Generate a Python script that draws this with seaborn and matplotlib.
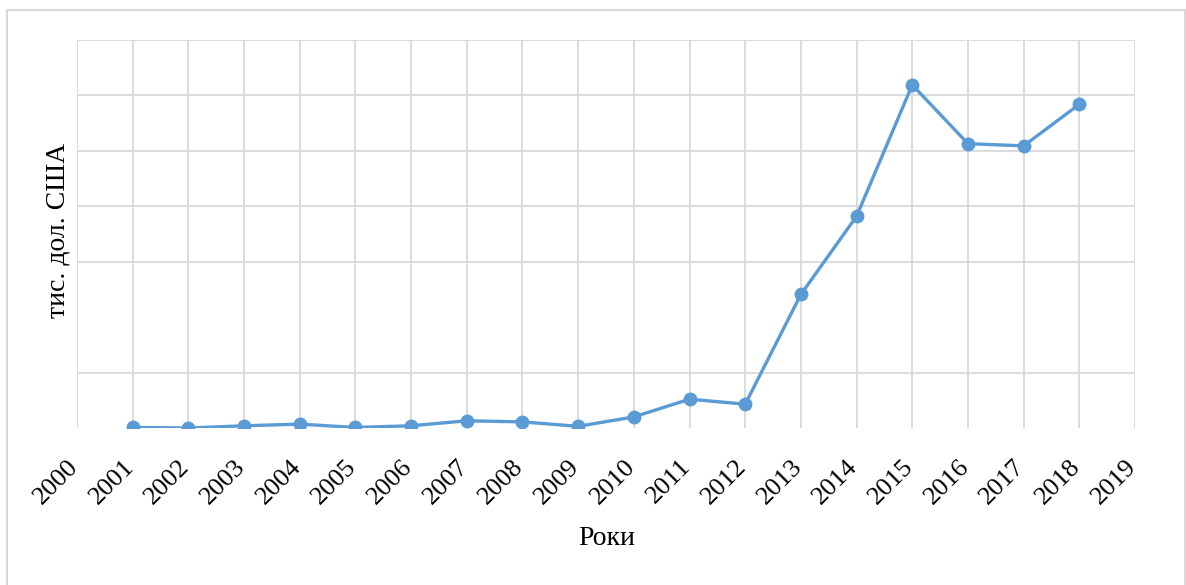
import matplotlib
matplotlib.use("Agg")
import matplotlib.pyplot as plt
import matplotlib.transforms as mtransforms
import seaborn as sns
import pandas as pd
from matplotlib.patches import Rectangle

# Values (units of one gridline step; the axis has no numbers)
years = list(range(2001, 2019))
values = [0.01, 0.0, 0.04, 0.07, 0.01, 0.04, 0.13, 0.11, 0.03,
          0.2, 0.52, 0.43, 2.41, 3.82, 6.19, 5.13, 5.09, 5.84]
tick_years = list(range(2000, 2020))
grid_levels = [1, 3, 4, 5, 6, 7]
x_title = "Роки"
y_title = "тис. дол. США"

df = pd.DataFrame({"year": years, "value": values})

sns.set_style("whitegrid")
plt.rcParams["font.family"] = ["Liberation Serif", "DejaVu Serif"]

fig = plt.figure(figsize=(11.86, 5.85), dpi=100)
ax = fig.add_axes([77 / 1186, 1 - 428 / 585, (1135 - 77) / 1186, (428 - 40) / 585])

# light frame round the whole chart
fig.patches.append(Rectangle((7 / 1186, -0.05), 1178 / 1186, 1 - 10 / 585 + 0.05,
                             transform=fig.transFigure, fill=False,
                             edgecolor="#D9D9D9", linewidth=1.5))

sns.lineplot(data=df, x="year", y="value", ax=ax, color="#5B9BD5",
             linewidth=2.4, marker="o", markersize=10, markeredgewidth=0)

ax.set_xlim(2000, 2019)
ax.set_ylim(0, 7)
ax.set_xticks(tick_years)
ax.set_xticklabels([str(y) for y in tick_years], rotation=45, ha="right",
                   rotation_mode="anchor", fontsize=19, color="black")
ax.set_yticks(grid_levels)
ax.set_yticklabels([])
ax.tick_params(axis="both", length=0)
ax.tick_params(axis="x", pad=14)
shift = mtransforms.ScaledTranslation(-10 / 100, -8 / 100, fig.dpi_scale_trans)
for lab in ax.get_xticklabels():
    lab.set_transform(lab.get_transform() + shift)
ax.grid(True, color="#D9D9D9", linewidth=1.3)
for s in ax.spines.values():
    s.set_visible(False)

ax.set_xlabel(x_title, fontsize=20, color="black")
ax.set_ylabel(y_title, fontsize=20, color="black")
ax.xaxis.set_label_coords((607 - 77) / (1135 - 77), -(526 - 428) / (428 - 40))
ax.yaxis.set_label_coords(-(77 - 70) / (1135 - 77), (428 - 230) / (428 - 40))

fig.savefig("out.png", dpi=100, facecolor="white")
